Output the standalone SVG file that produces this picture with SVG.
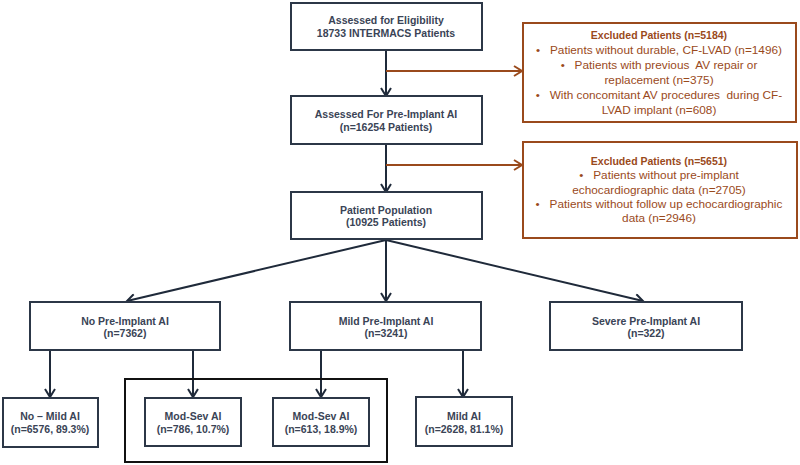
<svg xmlns="http://www.w3.org/2000/svg" width="800" height="465" viewBox="0 0 800 465">
<style>
.n{fill:#fff;stroke:#2c3747;stroke-width:2}
.x{fill:#fff;stroke:#9a4a1c;stroke-width:2}
.t{font-family:"Liberation Sans",Arial,sans-serif;font-weight:bold;font-size:10.5px;fill:#3a4456;text-anchor:middle}
.h{font-family:"Liberation Sans",Arial,sans-serif;font-weight:bold;font-size:10.5px;fill:#9a4a1c;text-anchor:middle}
.b{font-family:"Liberation Sans",Arial,sans-serif;font-size:11.8px;fill:#9a4a1c;text-anchor:middle;white-space:pre}
.c{fill:none;stroke:#1f2a3a;stroke-width:2}
.o{fill:none;stroke:#9a4a1c;stroke-width:2}
</style>
<defs>
<marker id="a" viewBox="0 0 12 12" refX="10" refY="6" markerWidth="12" markerHeight="12" markerUnits="userSpaceOnUse" orient="auto">
<path d="M2,1 L10,6 L2,11" fill="none" stroke="#1f2a3a" stroke-width="2"/>
</marker>
<marker id="ao" viewBox="0 0 12 12" refX="10" refY="6" markerWidth="12" markerHeight="12" markerUnits="userSpaceOnUse" orient="auto">
<path d="M2,1 L10,6 L2,11" fill="none" stroke="#9a4a1c" stroke-width="2"/>
</marker>
</defs>
<rect width="800" height="465" fill="#fff"/>
<g id="connectors">
<path class="c" d="M386,50 V96" marker-end="url(#a)"/>
<path class="o" d="M386,71 H522" marker-end="url(#ao)"/>
<path class="c" d="M386,144 V192" marker-end="url(#a)"/>
<path class="o" d="M386,165 H522" marker-end="url(#ao)"/>
<path class="c" d="M386,240 L127,301" marker-end="url(#a)"/>
<path class="c" d="M386,240 V301" marker-end="url(#a)"/>
<path class="c" d="M386,240 L643,301" marker-end="url(#a)"/>
<path class="c" d="M50,350 V397" marker-end="url(#a)"/>
<path class="c" d="M193,350 V397" marker-end="url(#a)"/>
<path class="c" d="M321,350 V397" marker-end="url(#a)"/>
<path class="c" d="M463,350 V397" marker-end="url(#a)"/>
</g>
<g id="group-modsev"><rect x="125" y="379" width="262" height="83" fill="none" stroke="#111" stroke-width="2"/></g>
<g id="eligibility"><rect class="n" x="291" y="3" width="191" height="47"/>
<text class="t" x="386" y="24">Assessed for Eligibility</text><text class="t" x="386" y="37">18733 INTERMACS Patients</text></g>
<g id="excluded1"><rect class="x" x="523" y="23" width="273" height="99"/>
<text class="h" x="659" y="39">Excluded Patients (n=5184)</text>
<text class="b" x="659" y="54">•   Patients without durable, CF-LVAD (n=1496)</text>
<text class="b" x="659" y="69">•   Patients with previous  AV repair or</text>
<text class="b" x="659" y="84">replacement (n=375)</text>
<text class="b" x="659" y="99">•   With concomitant AV procedures  during CF-</text>
<text class="b" x="659" y="114">LVAD implant (n=608)</text></g>
<g id="preimplant"><rect class="n" x="291" y="96" width="191" height="48"/>
<text class="t" x="386" y="118">Assessed For Pre-Implant AI</text><text class="t" x="386" y="131">(n=16254 Patients)</text></g>
<g id="excluded2"><rect class="x" x="523" y="142" width="274" height="96"/>
<text class="h" x="659" y="165">Excluded Patients (n=5651)</text>
<text class="b" x="659" y="179">•   Patients without pre-implant</text>
<text class="b" x="659" y="194">echocardiographic data (n=2705)</text>
<text class="b" x="659" y="208">•   Patients without follow up echocardiographic</text>
<text class="b" x="659" y="222">data (n=2946)</text></g>
<g id="population"><rect class="n" x="291" y="192" width="191" height="47"/>
<text class="t" x="386" y="214">Patient Population</text><text class="t" x="386" y="226">(10925 Patients)</text></g>
<g id="noai"><rect class="n" x="30" y="302" width="190" height="48"/>
<text class="t" x="125" y="325">No Pre-Implant AI</text><text class="t" x="125" y="337">(n=7362)</text></g>
<g id="mildai"><rect class="n" x="290" y="302" width="191" height="48"/>
<text class="t" x="386" y="325">Mild Pre-Implant AI</text><text class="t" x="386" y="337">(n=3241)</text></g>
<g id="severeai"><rect class="n" x="550" y="302" width="192" height="48"/>
<text class="t" x="646" y="325">Severe Pre-Implant AI</text><text class="t" x="646" y="337">(n=322)</text></g>
<g id="nomild"><rect class="n" x="3" y="398" width="95" height="49"/>
<text class="t" x="50" y="420">No – Mild AI</text><text class="t" x="50" y="433">(n=6576, 89.3%)</text></g>
<g id="modsev1"><rect class="n" x="145" y="398" width="96" height="48"/>
<text class="t" x="193" y="420">Mod-Sev AI</text><text class="t" x="193" y="433">(n=786, 10.7%)</text></g>
<g id="modsev2"><rect class="n" x="273" y="398" width="96" height="48"/>
<text class="t" x="321" y="420">Mod-Sev AI</text><text class="t" x="321" y="433">(n=613, 18.9%)</text></g>
<g id="mild"><rect class="n" x="416" y="397" width="96" height="49"/>
<text class="t" x="464" y="420">Mild AI</text><text class="t" x="464" y="433">(n=2628, 81.1%)</text></g>
</svg>
